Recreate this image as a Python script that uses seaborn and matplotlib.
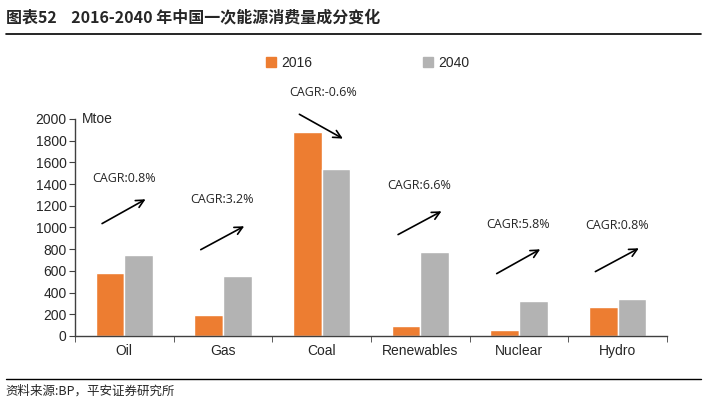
import numpy as np
import pandas as pd
import seaborn as sns
import matplotlib.pyplot as plt
from matplotlib.patches import Patch

categories = ['Oil', 'Gas', 'Coal', 'Renewables', 'Nuclear', 'Hydro']
val_2016 = [580, 194, 1882, 92, 55, 270]
val_2040 = [746, 553, 1539, 777, 323, 344]
cagr_labels = ['CAGR:0.8%', 'CAGR:3.2%', 'CAGR:-0.6%', 'CAGR:6.6%', 'CAGR:5.8%', 'CAGR:0.8%']
arrow_start = [1023, 783, 2055, 922, 562, 581]
arrow_end = [1272, 1023, 1806, 1161, 811, 820]
label_y = [1447, 1253, 2240, 1382, 1023, 1014]

df = pd.DataFrame({
    'cat': categories * 2,
    'year': ['2016'] * 6 + ['2040'] * 6,
    'val': val_2016 + val_2040,
})

sns.set_style('white')
plt.rcParams['font.family'] = ['Liberation Sans', 'DejaVu Sans']

fig = plt.figure(figsize=(7.21, 3.99), dpi=100)
ax = fig.add_axes([0.104, 0.158, 0.821, 0.544])

sns.barplot(data=df, x='cat', y='val', hue='year', palette=['#ED7D31', '#B3B3B3'],
            width=0.58, saturation=1, ax=ax, legend=False)

ax.set_ylim(0, 2000)
ax.set_xlim(-0.5, 5.5)
ax.set_yticks(range(0, 2001, 200))
ax.set_xlabel('')
ax.set_ylabel('')
ax.set_xticks(range(6))
ax.set_xticklabels(categories)
ax.tick_params(axis='both', labelsize=10, length=0, pad=6)
ax.tick_params(axis='y', length=4, direction='out', left=True, color='#404040', pad=2)
ax.set_xticks(np.arange(-0.5, 6, 1), minor=True)
ax.tick_params(axis='x', which='minor', length=4, direction='out', bottom=True, color='#404040')
for s in ['top', 'right']:
    ax.spines[s].set_visible(False)
for s in ['left', 'bottom']:
    ax.spines[s].set_color('#404040')
    ax.spines[s].set_linewidth(1)

ax.text(0.012, 2000, 'Mtoe', fontsize=10, va='center', ha='left', transform=ax.get_yaxis_transform())

for i in range(6):
    ax.annotate('', xy=(i + 0.24, arrow_end[i]), xytext=(i - 0.25, arrow_start[i]),
                arrowprops=dict(arrowstyle='->', color='black', lw=1.2, mutation_scale=14),
                annotation_clip=False)
    ax.text(i - 0.33, label_y[i], cagr_labels[i], fontsize=9, family=['Open Sans', 'DejaVu Sans'],
            va='center', ha='left', clip_on=False)

# legend
handles = [Patch(color='#ED7D31', label='2016'), Patch(color='#B3B3B3', label='2040')]
fig.legend(handles=handles, loc='center', bbox_to_anchor=(0.51, 0.842), ncol=2, frameon=False,
           fontsize=10, columnspacing=8, handlelength=0.7, handleheight=0.7, handletextpad=0.4)

# title and source
fig.text(0.008, 0.957, '图表52    2016-2040 年中国一次能源消费量成分变化', fontsize=11.5, fontweight='bold',
         family=['Noto Sans CJK SC', 'DejaVu Sans'], va='center', ha='left')
fig.add_artist(plt.Line2D([0.008, 0.972], [0.915, 0.915], color='black', lw=1.2, transform=fig.transFigure))
fig.add_artist(plt.Line2D([0.008, 0.972], [0.05, 0.05], color='black', lw=1, transform=fig.transFigure))
fig.text(0.008, 0.02, '资料来源:BP，平安证券研究所', fontsize=9, style='italic',
         family=['Noto Sans CJK SC', 'DejaVu Sans'], va='center', ha='left')

fig.savefig('out.png', dpi=100)
